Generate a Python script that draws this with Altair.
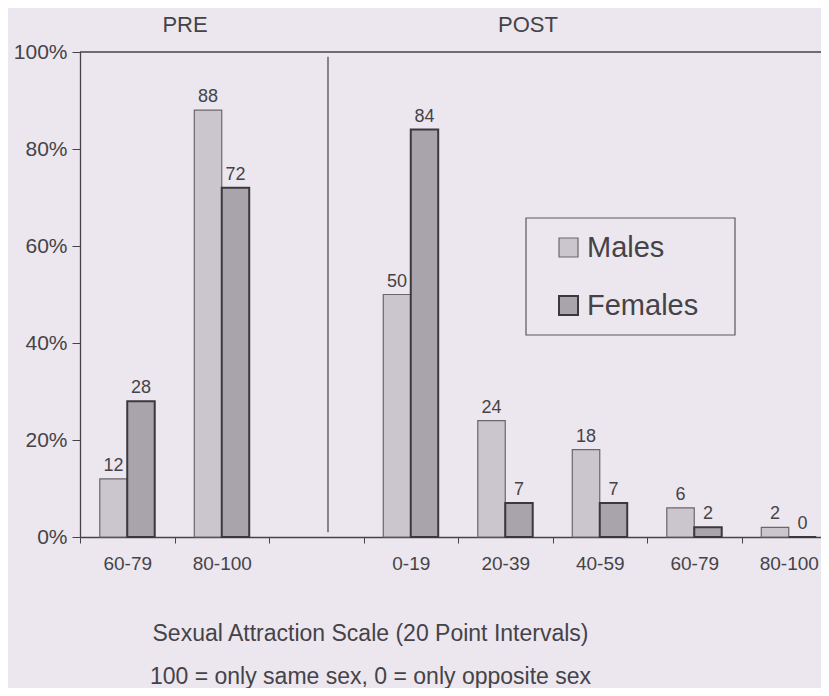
import altair as alt
import pandas as pd

# ---- data ----
phases = ["PRE", "PRE", "POST", "POST", "POST", "POST", "POST"]
intervals = ["60-79", "80-100", "0-19", "20-39", "40-59", "60-79", "80-100"]
males = [12, 88, 50, 24, 18, 6, 2]
females = [28, 72, 84, 7, 7, 2, 0]
sexes = ["Males", "Females"]
y_ticks = [0, 20, 40, 60, 80, 100]

slots = [f"{p} {i}" for p, i in zip(phases[:2], intervals[:2])] + [" "] + \
        [f"{p} {i}" for p, i in zip(phases[2:], intervals[2:])]

rows = []
for p, i, m, f in zip(phases, intervals, males, females):
    rows.append({"slot": f"{p} {i}", "sex": "Males", "value": m})
    rows.append({"slot": f"{p} {i}", "sex": "Females", "value": f})
df = pd.DataFrame(rows)

BG = "#ece7ee"
INK = "#454347"
FONT = "Liberation Sans"

x_enc = alt.X(
    "slot:N",
    scale=alt.Scale(domain=slots, range=[0, 756], paddingInner=0, paddingOuter=0),
    axis=alt.Axis(
        title=["Sexual Attraction Scale (20 Point Intervals)",
               "100 = only same sex, 0 = only opposite sex"],
        titleFontSize=23, titleFontWeight="normal", titleColor=INK,
        titleLineHeight=43, titleX=290, titleY=85, titleBaseline="top",
        titleAlign="center", titleAnchor="start",
        labelExpr="replace(replace(datum.label, 'PRE ', ''), 'POST ', '')",
        labelAngle=0, labelFontSize=19, labelColor=INK, labelPadding=11,
        tickBand="extent", tickSize=6, tickColor=INK, domainColor=INK,
        domainWidth=1.3, labelFont=FONT, titleFont=FONT,
    ),
)
xoff_enc = alt.XOffset(
    "sex:N",
    scale=alt.Scale(domain=sexes, paddingOuter=0.72, paddingInner=0),
)
y_enc = alt.Y(
    "value:Q",
    scale=alt.Scale(domain=[0, 100]),
    axis=alt.Axis(
        values=y_ticks, labelExpr="datum.value + '%'", title=None,
        labelFontSize=21, labelColor=INK, labelPadding=5, labelFont=FONT,
        tickSize=8, tickColor=INK, domainColor=INK, domainWidth=1.3, grid=False,
    ),
)

bars = alt.Chart(df).mark_bar().encode(
    x=x_enc,
    xOffset=xoff_enc,
    y=y_enc,
    color=alt.Color(
        "sex:N",
        scale=alt.Scale(domain=sexes, range=["#cbc6cd", "#a9a4ab"]),
        legend=alt.Legend(
            title=None, orient="none", legendX=474, legendY=181,
            symbolType="square", symbolSize=361, symbolStrokeColor="#555",
            symbolStrokeWidth=1.5, labelFontSize=29, labelColor=INK,
            labelFont=FONT, labelOffset=4, rowPadding=28,
        ),
    ),
    stroke=alt.Stroke("sex:N", scale=alt.Scale(domain=sexes, range=["#6a676c", "#3a383c"]), legend=None),
    strokeWidth=alt.StrokeWidth("sex:N", scale=alt.Scale(domain=sexes, range=[1.2, 2.0]), legend=None),
)

labels = alt.Chart(df).mark_text(dy=-13, fontSize=18, color=INK, font=FONT).encode(
    x=alt.X("slot:N"),
    xOffset=alt.XOffset("sex:N"),
    y=alt.Y("value:Q"),
    text=alt.Text("value:Q"),
)

one = pd.DataFrame({"k": [0]})
top_rule = alt.Chart(one).mark_rule(color=INK, strokeWidth=1.3).encode(
    y=alt.datum(100), x=alt.value(0), x2=alt.value(756)
)
divider = alt.Chart(one).mark_rule(color=INK, strokeWidth=1.2).encode(
    x=alt.value(248), y=alt.datum(99), y2=alt.datum(1)
)
headers_df = pd.DataFrame({"label": ["PRE", "POST"], "px": [105, 448]})
headers = alt.Chart(headers_df).mark_text(fontSize=22, color=INK, font=FONT).encode(
    x=alt.X("px:Q", scale=None), y=alt.value(-27), text="label:N"
)
legend_box = alt.Chart(one).mark_rect(filled=False, stroke="#5a585c", strokeWidth=1.2).encode(
    x=alt.value(446), x2=alt.value(655), y=alt.value(166), y2=alt.value(283)
)

chart = alt.layer(bars, labels, top_rule, divider, headers, legend_box).properties(
    width=741, height=485,
    autosize=alt.AutoSizeParams(type="none"),
    padding={"left": 72, "top": 44, "right": 0, "bottom": 151},
    background=BG,
).configure_view(stroke=None).configure_text(font=FONT)

chart.save("out.html", embed_options={"renderer": "svg", "actions": False})
